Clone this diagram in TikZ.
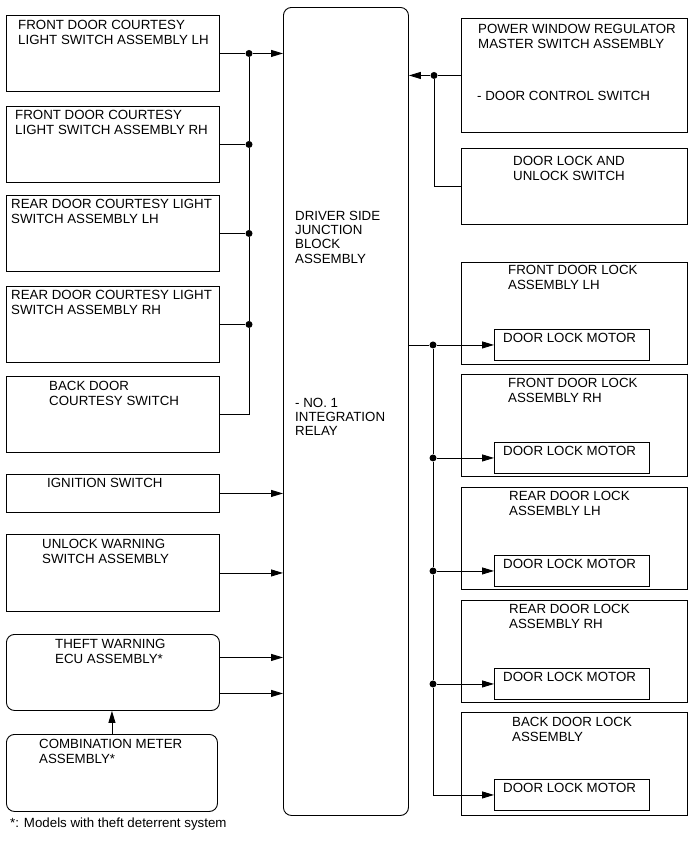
\documentclass[tikz,border=0pt]{standalone}
\usepackage{fontspec}
\setmainfont{Liberation Sans}
\usetikzlibrary{arrows.meta, positioning}

\newcommand{\boxlines}[1]{\begin{tabular}[t]{@{}l@{}}#1\end{tabular}}

\begin{document}
\begin{tikzpicture}[x=1pt, y=-1pt,
  box/.style={rectangle, draw, line width=0.9pt, anchor=north west, inner sep=0pt},
  rbox/.style={box, rounded corners=8pt},
  txt/.style={anchor=base west, inner sep=0pt, font=\fontsize{13.3}{15}\selectfont},
  arr/.style={-{Triangle[length=12pt, width=7pt]}, line width=0.9pt},
  wire/.style={line width=0.9pt},
  dot/.style={circle, fill, inner sep=0pt, minimum size=7pt},
]
\useasboundingbox (0,0) rectangle (691,854);

% junction block
\node[rbox, minimum width=125pt, minimum height=808pt] (jb) at (283,7) {};
\node[txt, font=\fontsize{13.3}{14.4}\selectfont] (jb-t1) at ([shift={(12,213)}]jb.north west) {\boxlines{DRIVER SIDE\\JUNCTION\\BLOCK\\ASSEMBLY}};
\node[txt, font=\fontsize{13.3}{14.4}\selectfont] (jb-t2) at ([shift={(12,400)}]jb.north west) {\boxlines{- NO. 1\\INTEGRATION\\RELAY}};

% left inputs
\node[box, minimum width=213pt, minimum height=76pt] (fdlh) at (6,15) {};
\node[box, minimum width=213pt, minimum height=76pt] (fdrh) at (6,106) {};
\node[box, minimum width=213pt, minimum height=76pt] (rdlh) at (6,195) {};
\node[box, minimum width=213pt, minimum height=76pt] (rdrh) at (6,286) {};
\node[box, minimum width=213pt, minimum height=76pt] (bdcs) at (6,376) {};
\node[box, minimum width=213pt, minimum height=38pt] (ign) at (6,474) {};
\node[box, minimum width=213pt, minimum height=77pt] (uws) at (6,534) {};
\node[rbox, minimum width=213pt, minimum height=76pt] (theft) at (6,634) {};
\node[rbox, minimum width=211pt, minimum height=77pt] (meter) at (6,734) {};

\node[txt] (fdlh-t) at ([shift={(12,14)}]fdlh.north west) {\boxlines{FRONT DOOR COURTESY\\LIGHT SWITCH ASSEMBLY LH}};
\node[txt] (fdrh-t) at ([shift={(9,13)}]fdrh.north west) {\boxlines{FRONT DOOR COURTESY\\LIGHT SWITCH ASSEMBLY RH}};
\node[txt] (rdlh-t) at ([shift={(5,13)}]rdlh.north west) {\boxlines{REAR DOOR COURTESY LIGHT\\SWITCH ASSEMBLY LH}};
\node[txt] (rdrh-t) at ([shift={(5,13)}]rdrh.north west) {\boxlines{REAR DOOR COURTESY LIGHT\\SWITCH ASSEMBLY RH}};
\node[txt] (bdcs-t) at ([shift={(43,14)}]bdcs.north west) {\boxlines{BACK DOOR\\COURTESY SWITCH}};
\node[txt] (ign-t) at ([shift={(41,13)}]ign.north west) {IGNITION SWITCH};
\node[txt] (uws-t) at ([shift={(36,14)}]uws.north west) {\boxlines{UNLOCK WARNING\\SWITCH ASSEMBLY}};
\node[txt] (theft-t) at ([shift={(49,14)}]theft.north west) {\boxlines{THEFT WARNING\\ECU ASSEMBLY*}};
\node[txt] (meter-t) at ([shift={(33,14)}]meter.north west) {\boxlines{COMBINATION METER\\ASSEMBLY*}};
\node[txt] (note) at (10,827) {*: Models with theft deterrent system};

% right switches
\node[box, minimum width=226pt, minimum height=114pt] (pwr) at (461,18) {};
\node[box, minimum width=226pt, minimum height=76pt] (dlus) at (461,148) {};
\node[txt] (pwr-t) at ([shift={(17,15)}]pwr.north west) {\boxlines{POWER WINDOW REGULATOR\\MASTER SWITCH ASSEMBLY}};
\node[txt] (pwr-t2) at ([shift={(16,82)}]pwr.north west) {- DOOR CONTROL SWITCH};
\node[txt] (dlus-t) at ([shift={(52,17)}]dlus.north west) {\boxlines{DOOR LOCK AND\\UNLOCK SWITCH}};

% door lock assemblies
\node[box, minimum width=226pt, minimum height=102pt] (fdl) at (461,262) {};
\node[box, minimum width=226pt, minimum height=102pt] (fdr) at (461,374) {};
\node[box, minimum width=226pt, minimum height=102pt] (rdl) at (461,487) {};
\node[box, minimum width=226pt, minimum height=102pt] (rdr) at (461,600) {};
\node[box, minimum width=226pt, minimum height=103pt] (bdl) at (461,712) {};
\node[txt] (fdl-t) at ([shift={(47,12)}]fdl.north west) {\boxlines{FRONT DOOR LOCK\\ASSEMBLY LH}};
\node[txt] (fdr-t) at ([shift={(47,13)}]fdr.north west) {\boxlines{FRONT DOOR LOCK\\ASSEMBLY RH}};
\node[txt] (rdl-t) at ([shift={(48,13)}]rdl.north west) {\boxlines{REAR DOOR LOCK\\ASSEMBLY LH}};
\node[txt] (rdr-t) at ([shift={(48,13)}]rdr.north west) {\boxlines{REAR DOOR LOCK\\ASSEMBLY RH}};
\node[txt] (bdl-t) at ([shift={(51,14)}]bdl.north west) {\boxlines{BACK DOOR LOCK\\ASSEMBLY}};

\node[box, minimum width=155pt, minimum height=31pt] (fdlm) at ([shift={(33,67)}]fdl.north west) {};
\node[box, minimum width=155pt, minimum height=31pt] (fdrm) at ([shift={(33,68)}]fdr.north west) {};
\node[box, minimum width=155pt, minimum height=31pt] (rdlm) at ([shift={(33,68)}]rdl.north west) {};
\node[box, minimum width=155pt, minimum height=31pt] (rdrm) at ([shift={(33,68)}]rdr.north west) {};
\node[box, minimum width=155pt, minimum height=31pt] (bdlm) at ([shift={(33,67)}]bdl.north west) {};
\foreach \m in {fdlm, fdrm, rdlm, rdrm, bdlm}
  \node[txt] (\m-t) at ([shift={(9,13)}]\m.north west) {DOOR LOCK MOTOR};

% junctions
\coordinate (lbus) at (249,0);
\coordinate (pbus) at (434,0);
\coordinate (rbus) at (433,0);
\coordinate (theft-o1) at ([yshift=15pt]theft.east);
\coordinate (theft-o2) at ([yshift=-21pt]theft.east);
\node[dot] (jl1) at (lbus |- fdlh.east) {};
\node[dot] (jl2) at (lbus |- fdrh.east) {};
\node[dot] (jl3) at (lbus |- rdlh.east) {};
\node[dot] (jl4) at (lbus |- rdrh.east) {};
\node[dot] (jp) at (pbus |- pwr.west) {};
\node[dot] (jr1) at (rbus |- fdlm.west) {};
\node[dot] (jr2) at (rbus |- fdrm.west) {};
\node[dot] (jr3) at (rbus |- rdlm.west) {};
\node[dot] (jr4) at (rbus |- rdrm.west) {};

% Arrows
\draw[wire] (fdlh.east) -- (jl1);
\draw[arr] (jl1) -- (jb.west |- jl1);
\draw[wire] (fdrh.east) -- (jl2);
\draw[wire] (rdlh.east) -- (jl3);
\draw[wire] (rdrh.east) -- (jl4);
\draw[wire] (bdcs.east) -| (jl4);
\draw[wire] (jl4) -- (jl3) -- (jl2) -- (jl1);
\draw[arr] (ign.east) -- (jb.west |- ign.east);
\draw[arr] (uws.east) -- (jb.west |- uws.east);
\draw[arr] (theft-o1) -- (jb.west |- theft-o1);
\draw[arr] (theft-o2) -- (jb.west |- theft-o2);
\draw[arr] (meter.north) -- (meter.north |- theft.south);

\draw[wire] (pwr.west) -- (jp);
\draw[arr] (jp) -- (jb.east |- jp);
\draw[wire] (dlus.west) -| (jp);

\draw[wire] (jb.east |- jr1) -- (jr1);
\draw[arr] (jr1) -- (fdlm.west);
\draw[arr] (jr2) -- (fdrm.west);
\draw[arr] (jr3) -- (rdlm.west);
\draw[arr] (jr4) -- (rdrm.west);
\draw[wire] (jr1) -- (jr2) -- (jr3) -- (jr4);
\draw[arr] (jr4) |- (bdlm.west);
\end{tikzpicture}
\end{document}
